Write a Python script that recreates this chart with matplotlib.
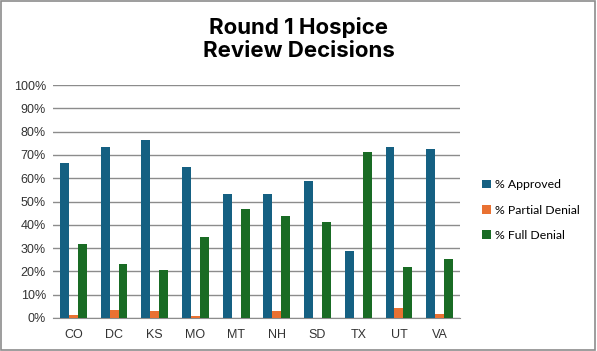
import matplotlib.pyplot as plt
import numpy as np
from matplotlib.patches import Rectangle
from matplotlib.ticker import PercentFormatter

states = ["CO", "DC", "KS", "MO", "MT", "NH", "SD", "TX", "UT", "VA"]
approved = [66.7, 73.5, 76.5, 64.9, 53.3, 53.2, 58.6, 28.6, 73.5, 72.7]
partial = [1.5, 3.3, 2.9, 0.7, 0.0, 3.2, 0.0, 0.0, 4.4, 1.8]
full = [31.8, 23.2, 20.6, 34.8, 46.7, 43.6, 41.4, 71.4, 22.1, 25.5]

plt.rcParams['font.family'] = ['Liberation Sans', 'DejaVu Sans']

fig = plt.figure(figsize=(5.97, 3.51), dpi=100)
ax = fig.add_axes([53 / 597, 1 - 318 / 351, (460 - 53) / 597, (318 - 85) / 351])

x = np.arange(len(states))
w = 0.22
ax.bar(x - w, approved, w, color='#156082', label='% Approved', zorder=3)
ax.bar(x, partial, w, color='#E97132', label='% Partial Denial', zorder=3)
ax.bar(x + w, full, w, color='#196B24', label='% Full Denial', zorder=3)

ax.set_ylim(0, 100)
ax.set_xlim(-0.5, len(states) - 0.5)
ax.set_yticks(range(0, 101, 10))
ax.yaxis.set_major_formatter(PercentFormatter(decimals=0))
ax.set_xticks(x)
ax.set_xticklabels(states)
ax.tick_params(length=0, labelsize=9, colors='#333333')
ax.tick_params(axis='x', pad=8)
ax.tick_params(axis='y', pad=5)
ax.grid(axis='y', color='#8c8c8c', linewidth=1, zorder=0)
for s in ['top', 'left', 'right']:
    ax.spines[s].set_visible(False)
ax.spines['bottom'].set_color('#8c8c8c')

fig.text(0.5, 1 - 39 / 351, "Round 1 Hospice\nReview Decisions", ha='center', va='center',
         fontsize=16, fontweight='bold', linespacing=1.15, family=['Inter', 'DejaVu Sans'])

fig.legend(loc='center left', bbox_to_anchor=(471 / 597, 1 - 210 / 351), frameon=False,
           prop={'family': 'Lato', 'size': 8.8}, handlelength=0.7, handleheight=0.7,
           handletextpad=0.4, labelspacing=1.15)

fig.patches.append(Rectangle((0.002, 0.003), 0.995, 0.994, transform=fig.transFigure,
                             fill=False, edgecolor='#8c8c8c', linewidth=1.2))

plt.savefig('out.png', dpi=100)
